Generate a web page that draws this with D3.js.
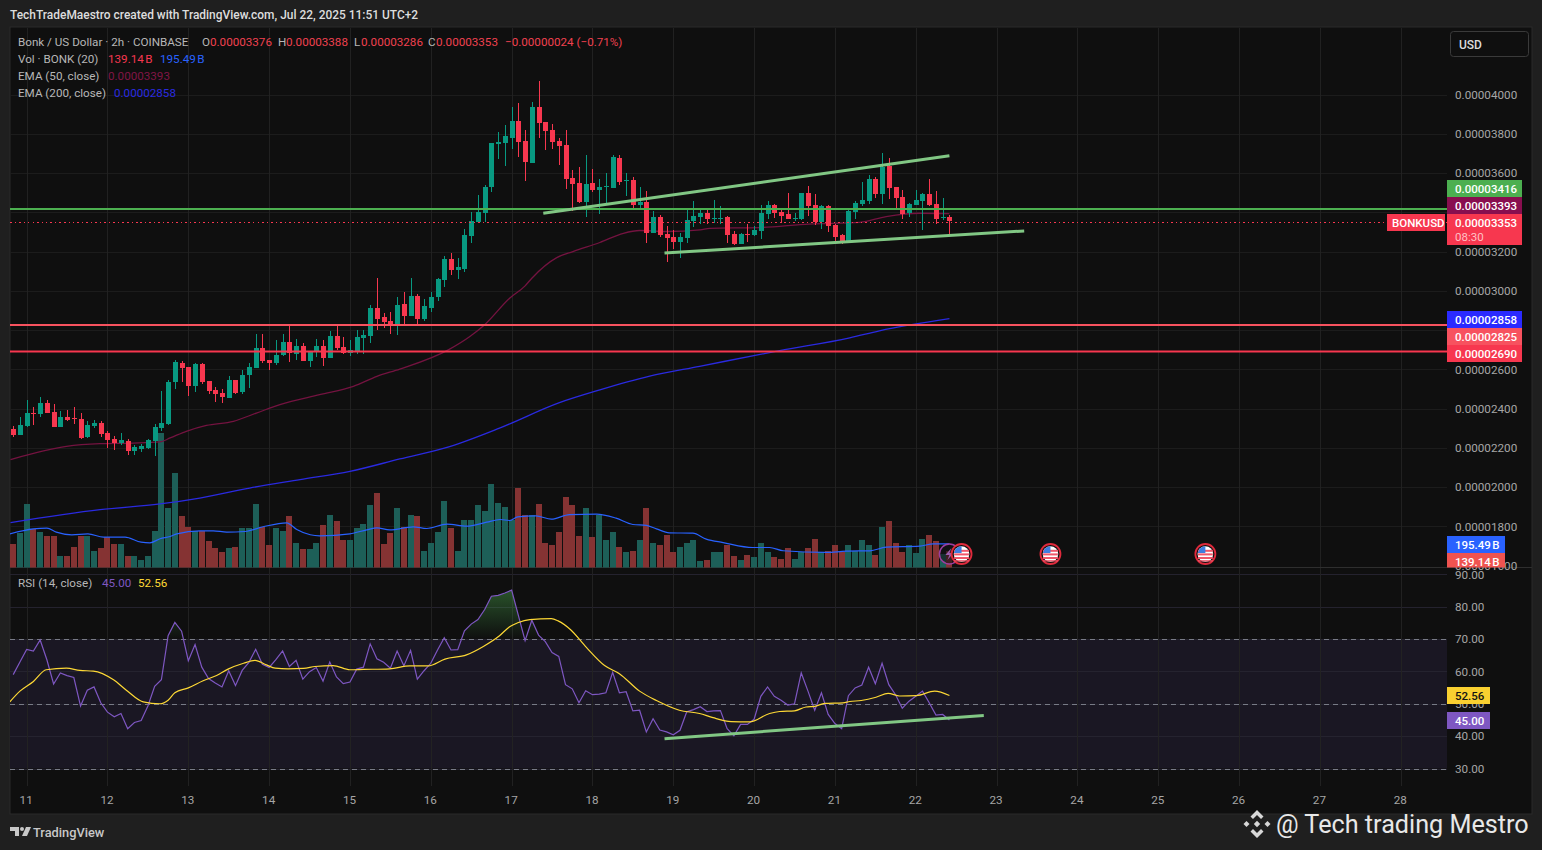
<!DOCTYPE html>
<html><head><meta charset="utf-8"><style>
html,body{margin:0;padding:0;background:#1f1f1f;overflow:hidden}
svg{display:block}
text{font-family:"Roboto",sans-serif}
</style>
<script src="https://cdn.jsdelivr.net/npm/d3@7/dist/d3.min.js"></script></head><body>
<svg id="c" width="1542" height="850"></svg>
<script>
// Prices are in units of 0.00000001 USD, one per 2h candle
const opens=[2297,2267,2313,2379,2374,2430,2384,2308,2359,2353,2348,2257,2313,2328,2277,2247,2226,2236,2185,2196,2201,2236,2303,2323,2537,2633,2613,2516,2628,2542,2496,2481,2455,2547,2486,2572,2608,2710,2649,2633,2674,2740,2679,2720,2644,2689,2720,2659,2771,2715,2684,2689,2761,2771,2913,2868,2847,2827,2934,2873,2974,2857,2913,2969,3056,3163,3107,3112,3280,3351,3397,3529,3748,3753,3779,3865,3763,3651,3937,3860,3819,3763,3743,3575,3550,3453,3550,3514,3529,3524,3677,3560,3565,3438,3453,3295,3377,3290,3275,3249,3270,3356,3376,3396,3367,3367,3376,3289,3239,3289,3284,3305,3391,3437,3401,3391,3367,3366,3498,3437,3351,3432,3335,3284,3254,3401,3442,3457,3569,3493,3636,3529,3478,3396,3437,3457,3493,3442,3371,3376];
const highs=[2313,2359,2445,2409,2460,2445,2425,2389,2394,2409,2379,2338,2343,2338,2287,2262,2277,2247,2216,2221,2247,2323,2491,2547,2649,2644,2613,2633,2633,2542,2511,2501,2567,2547,2598,2633,2781,2781,2649,2751,2781,2827,2756,2735,2695,2756,2751,2796,2827,2766,2751,2801,2801,2929,3066,2888,2893,2969,2995,3066,2985,2959,2995,3066,3178,3193,3168,3315,3402,3489,3539,3753,3809,3845,3937,3957,3819,3962,4069,3860,3850,3779,3819,3616,3631,3692,3621,3570,3601,3692,3692,3601,3580,3529,3509,3407,3387,3331,3310,3295,3412,3457,3412,3417,3463,3432,3381,3305,3294,3340,3330,3437,3457,3442,3412,3498,3396,3498,3534,3493,3437,3437,3340,3289,3417,3457,3554,3590,3580,3702,3676,3529,3513,3447,3513,3498,3569,3508,3473,3388];
const lows=[2253,2267,2308,2318,2359,2379,2308,2308,2338,2323,2247,2252,2303,2257,2201,2191,2216,2165,2165,2180,2196,2160,2287,2318,2501,2537,2465,2486,2527,2476,2435,2430,2455,2476,2476,2506,2608,2633,2598,2623,2669,2639,2649,2644,2613,2664,2618,2659,2700,2679,2669,2679,2679,2735,2801,2812,2781,2776,2832,2873,2832,2847,2893,2949,3020,3081,3061,3097,3244,3351,3351,3504,3672,3636,3723,3682,3560,3651,3779,3718,3723,3641,3519,3407,3448,3377,3504,3392,3443,3524,3539,3483,3422,3417,3244,3295,3275,3147,3214,3168,3244,3325,3340,3340,3345,3340,3244,3234,3239,3249,3279,3264,3366,3371,3345,3366,3356,3361,3381,3335,3315,3300,3239,3239,3254,3366,3432,3442,3473,3442,3468,3422,3366,3376,3437,3310,3432,3340,3361,3286];
const closes=[2267,2318,2379,2375,2430,2379,2308,2359,2343,2350,2252,2318,2328,2272,2241,2226,2241,2185,2206,2211,2241,2308,2328,2537,2639,2608,2516,2628,2537,2491,2476,2460,2547,2481,2572,2613,2710,2644,2633,2674,2740,2684,2720,2644,2695,2720,2659,2771,2710,2684,2700,2766,2776,2913,2857,2842,2827,2929,2873,2974,2857,2923,2969,3061,3163,3107,3122,3285,3356,3402,3529,3753,3758,3789,3865,3758,3657,3937,3855,3814,3758,3738,3570,3545,3453,3545,3514,3529,3534,3682,3555,3565,3438,3453,3295,3377,3285,3270,3249,3275,3361,3381,3396,3366,3371,3371,3284,3239,3289,3286,3310,3396,3437,3396,3381,3366,3371,3498,3432,3351,3432,3330,3274,3254,3407,3447,3463,3569,3493,3631,3524,3473,3391,3442,3463,3493,3437,3366,3376,3353];
// Volume in billions of BONK
const volumes=[198,286,520,314,297,256,264,91,99,173,264,256,140,165,248,190,198,99,91,66,91,305,1114,487,776,429,338,305,305,215,165,132,165,173,322,322,520,338,182,330,305,429,206,149,149,206,347,437,380,231,231,322,363,512,611,190,281,495,338,437,421,140,206,297,545,330,140,396,396,512,470,693,536,503,388,660,437,437,520,206,182,289,578,512,256,487,248,437,223,297,173,132,140,231,487,206,182,272,124,173,206,223,50,66,132,132,182,99,66,107,83,206,132,83,74,157,74,124,165,239,124,140,182,124,182,140,223,182,107,338,380,206,132,182,116,239,272,215,113,139.14];
const volMaIdx=[-0.5,3,5,6.4,8.7,11.1,13.4,16.6,19,20.3,21.8,23.3,24.3,27.7,29.7,31.7,34.4,37.1,40.6,42.1,44.1,45.5,50,52.5,54,55.9,59.4,61.4,64.4,67.3,70.3,72.3,73.7,74.9,77.6,79.9,82.6,86.6,89.5,92,94,95.5,97.4,100.9,102.9,105.4,109.8,112.3,114.3,120.7,123.7,127.2,129.6,134.6,136.6,139];
const volMaVal=[278,319,325,292,270,278,250,250,209,204,237,256,278,303,303,292,297,336,369,314,270,261,278,311,327,311,336,322,358,341,374,396,388,418,426,399,437,440,407,355,347,319,286,283,234,206,165,165,138,124,135,138,168,176,195,195.49];
const ema50Idx=[-0.4,4.5,7.9,12.9,17.8,21.8,23.3,25.7,28.7,32.7,36.1,39.6,45.5,50.5,54,57.4,64.6,67.8,70,73.7,76,77,80.7,83.1,87.1,90.6,93,97,102,103.4,110.8,118.2,125.7,129.6,134.6,139];
const ema50Val=[2140,2184,2207,2221,2224,2230,2250,2284,2314,2335,2377,2420,2471,2513,2564,2601,2699,2767,2827,2962,3025,3064,3169,3200,3246,3293,3307,3302,3310,3318,3322,3340,3349,3378,3395,3393];
const ema200Idx=[-0.4,12.9,21.8,27.7,35.1,42.6,50,57.4,64.8,72.2,81.1,87.1,94.5,101.9,113.8,124.2,128.6,139];
const ema200Val=[1819,1885,1914,1944,1995,2038,2080,2143,2206,2300,2430,2495,2565,2615,2695,2760,2796,2858];
const rsi=[59.0,62.9,66.8,66.3,69.7,63.6,56.1,59.5,58.7,58.1,49.3,54.2,55.2,50.3,47.4,46.0,47.0,42.3,44.2,44.8,49.3,55.4,57.4,71.0,75.1,72.4,63.3,68.3,61.3,57.8,56.4,55.2,60.2,55.6,60.3,62.8,66.8,62.2,61.2,63.6,66.3,61.5,63.4,57.6,59.9,61.2,57.0,62.9,58.3,56.2,56.7,60.7,61.3,68.5,63.9,62.8,61.0,66.3,61.7,66.5,57.6,60.2,62.5,66.6,70.4,66.6,66.7,72.5,74.6,76.0,79.1,83.2,83.5,84.2,85.1,77.3,69.5,75.8,71.2,69.2,65.8,64.6,55.9,54.6,50.3,54.0,52.8,53.0,53.4,59.7,53.4,53.7,47.8,48.0,41.3,45.4,41.9,41.3,40.4,41.8,47.5,48.2,49.1,47.6,47.8,47.9,42.3,40.1,43.6,43.6,45.2,52.3,55.2,52.3,51.1,49.6,50.0,59.5,53.9,48.0,53.4,46.7,43.9,42.3,52.5,54.9,55.8,61.3,56.2,62.5,55.9,52.8,48.6,50.8,52.3,53.9,50.3,46.5,46.7,45.0];
const rsiMaIdx=[-0.5,1,3,4.9,7.9,9.9,11.9,14.9,16.8,19.3,21.8,23,24,26,28.2,30.2,31.9,34.2,35.9,37.6,38.9,40.8,43.1,44.8,47.5,50,52,55.9,58.9,61.6,64.1,67.3,69.8,72.2,73.7,74.9,76.7,79.9,80.9,82.8,85.1,87.8,90,93,95.5,98.9,101.9,103.9,106.6,109.3,112.3,113.8,116,117.7,119,120.5,123.2,124.2,125.9,128.1,129.9,131.6,134.1,136.8,139];
const rsiMaVal=[50.6,53.9,56.9,60.5,61.0,60.3,60.1,57.4,54.2,50.6,50.0,51.1,53.4,54.9,57.1,58.7,60.7,62.5,63.4,62.0,61.0,60.8,60.9,61.5,61.8,60.5,60.6,60.8,61.7,61.7,63.8,65.1,67.7,71.0,73.8,75.0,76.0,76.3,75.6,72.8,67.4,61.8,59.3,53.9,51.0,48.0,47.0,45.7,44.5,44.4,47.0,47.6,47.8,49.0,49.2,50.1,50.3,50.7,51.0,52.0,53.2,52.4,52.5,53.9,52.56];
const priceTicks=[1600,1800,2000,2200,2400,2600,2800,3000,3200,3400,3600,3800,4000];
const priceLabelTicks=[1600,1800,2000,2200,2400,2600,3000,3200,3600,3800,4000];
const rsiTicks=[30,40,50,60,70,80,90];
const dayLabels=[11,12,13,14,15,16,17,18,19,20,21,22,23,24,25,26,27,28];
const levelPrices=[3416,2825,2690];
const upperTrendIdx=[78.7,139], upperTrendVal=[3395,3688];
const lowerTrendIdx=[96.7,150.1], lowerTrendVal=[3192,3305];
const rsiTrendIdx=[96.7,144.1], rsiTrendVal=[39.2,46.4];
const usEventIdx=[140.8,154,177];

const UP='#089981',DN='#f7374f',GRID='#1e1e1e';
const svg=d3.select('#c');
const L=10,R=1447,T=28,VB=567.5,B=786;
const x=d3.scaleLinear().domain([0,206]).range([13.2,1400.7]);
const y=d3.scaleLinear().domain([1800,4000]).range([526.3,94.5]);
const yv=d3.scaleLinear().domain([0,1114]).range([567.5,432.5]);
const yr=d3.scaleLinear().domain([30,70]).range([768.5,639]);
const dayIdx=d=>2+12*(d-11);

// frame
svg.append('rect').attr('x',L).attr('y',T-1).attr('width',1522).attr('height',787).attr('fill','#0f0f0f').attr('stroke','#2b2b2b');
const defs=svg.append('defs');
defs.append('clipPath').attr('id','pm').append('rect').attr('x',L).attr('y',T).attr('width',R-L).attr('height',VB-T);
defs.append('clipPath').attr('id','pr').append('rect').attr('x',L).attr('y',568).attr('width',R-L).attr('height',B-568);
const grad=defs.append('linearGradient').attr('id','ob').attr('gradientUnits','userSpaceOnUse').attr('x1',0).attr('x2',0).attr('y1',yr(85)).attr('y2',yr(70));
grad.append('stop').attr('offset',0).attr('stop-color','#4caf50').attr('stop-opacity',.42);
grad.append('stop').attr('offset',1).attr('stop-color','#4caf50').attr('stop-opacity',0);

// RSI band
svg.append('rect').attr('x',L).attr('width',R-L).attr('y',yr(70)).attr('height',yr(30)-yr(70)).attr('fill','#1a1723');

// grid
const gridH=svg.append('g').attr('transform',`translate(${R},0)`).call(d3.axisLeft(y).tickValues(priceTicks.filter(t=>t>=1800)).tickSize(R-L).tickFormat(''));
const gridR=svg.append('g').attr('transform',`translate(${R},0)`).call(d3.axisLeft(yr).tickValues(rsiTicks).tickSize(R-L).tickFormat(''));
const gridV=svg.append('g').attr('transform',`translate(0,${B})`).call(d3.axisTop(x).tickValues(dayLabels.map(dayIdx)).tickSize(B-T).tickFormat(''));
[gridH,gridR,gridV].forEach(g=>{g.select('.domain').remove();g.selectAll('line').attr('stroke',GRID).attr('stroke-opacity',.95).attr('stroke-width',1).attr('shape-rendering','crispEdges');});
gridR.selectAll('line').attr('stroke','#262430');
gridV.selectAll('line').attr('stroke','#232323');
// pane separator
svg.append('line').attr('x1',L).attr('x2',1532).attr('y1',567.5).attr('y2',567.5).attr('stroke','#2e2e2e');

const idxs=d3.range(opens.length);
const main=svg.append('g').attr('clip-path','url(#pm)');
// volume
main.append('g').selectAll('rect').data(idxs).join('rect')
 .attr('x',i=>x(i)-3).attr('width',6).attr('y',i=>yv(volumes[i])).attr('height',i=>567.5-yv(volumes[i]))
 .attr('fill',i=>closes[i]>=opens[i]?'#1d5f58':'#853333').attr('shape-rendering','crispEdges');
const lineOf=(xs,ys,sx,sy,smooth)=>d3.line().curve(smooth?d3.curveMonotoneX:d3.curveLinear).x((d,i)=>sx(xs[i])).y((d,i)=>sy(ys[i]))(xs);
main.append('path').attr('d',lineOf(volMaIdx,volMaVal,x,yv,true)).attr('fill','none').attr('stroke','#2962ff').attr('stroke-width',1.2).attr('stroke-linejoin','round');
main.append('path').attr('d',lineOf(ema50Idx,ema50Val,x,y,true)).attr('fill','none').attr('stroke','#741340').attr('stroke-width',1.3);
main.append('path').attr('d',lineOf(ema200Idx,ema200Val,x,y,true)).attr('fill','none').attr('stroke','#2a2ae0').attr('stroke-width',1.3);
// candles
const cg=main.append('g');
cg.selectAll('line').data(idxs).join('line')
 .attr('x1',i=>Math.round(x(i))+.5).attr('x2',i=>Math.round(x(i))+.5).attr('y1',i=>y(highs[i])).attr('y2',i=>y(lows[i]))
 .attr('stroke',i=>closes[i]>=opens[i]?UP:DN).attr('stroke-width',1).attr('shape-rendering','crispEdges');
cg.selectAll('rect').data(idxs).join('rect')
 .attr('x',i=>Math.round(x(i))-2).attr('width',5)
 .attr('y',i=>y(Math.max(opens[i],closes[i])))
 .attr('height',i=>Math.max(1,Math.abs(y(opens[i])-y(closes[i]))))
 .attr('fill',i=>closes[i]>=opens[i]?UP:DN).attr('shape-rendering','crispEdges');
// levels
const lev=['#4caf50','#f7525f','#f7374f'];
main.append('g').selectAll('line').data(levelPrices).join('line').attr('x1',L).attr('x2',R).attr('y1',d=>y(d)).attr('y2',d=>y(d))
 .attr('stroke',(d,i)=>lev[i]).attr('stroke-width',2);
const lastY=Math.ceil(y(closes[139]))+.5;
main.append('line').attr('x1',L).attr('x2',R).attr('y1',lastY).attr('y2',lastY).attr('stroke',DN).attr('stroke-dasharray','1.5 3').attr('stroke-width',1).attr('shape-rendering','crispEdges');
// trend lines
main.append('path').attr('d',lineOf(upperTrendIdx,upperTrendVal,x,y)).attr('stroke','#81c784').attr('stroke-width',3).attr('fill','none');
main.append('path').attr('d',lineOf(lowerTrendIdx,lowerTrendVal,x,y)).attr('stroke','#81c784').attr('stroke-width',3).attr('fill','none');

// RSI pane
const rp=svg.append('g').attr('clip-path','url(#pr)');
rp.selectAll('line.l').data([70,50,30]).join('line').attr('class','l').attr('x1',L).attr('x2',R).attr('y1',d=>Math.round(yr(d))+.5).attr('y2',d=>Math.round(yr(d))+.5)
 .attr('stroke','#787b86').attr('stroke-dasharray','5 4');
defs.append('clipPath').attr('id','ob70').append('rect').attr('x',L).attr('width',R-L).attr('y',568).attr('height',yr(70)-568);
rp.append('path').attr('clip-path','url(#ob70)').attr('fill','url(#ob)')
 .attr('d',d3.area().x(i=>x(i)).y0(yr(70)).y1(i=>yr(rsi[i]))(idxs));
rp.append('path').attr('d',d3.line().x(i=>x(i)).y(i=>yr(rsi[i]))(idxs)).attr('fill','none').attr('stroke','#7e57c2').attr('stroke-width',1.2);
rp.append('path').attr('d',lineOf(rsiMaIdx,rsiMaVal,x,yr,true)).attr('fill','none').attr('stroke','#fdd835').attr('stroke-width',1.2);
rp.append('path').attr('d',lineOf(rsiTrendIdx,rsiTrendVal,x,yr)).attr('stroke','#81c784').attr('stroke-width',3).attr('fill','none');

// axes
const TICK='#a6a6a6',FS=11.7;
const fmt=v=>(v*1e-8).toFixed(8);
const ax=svg.append('g').attr('transform',`translate(1449,0)`).call(d3.axisRight(y).tickValues(priceLabelTicks).tickSize(0).tickPadding(6).tickFormat(fmt));
const ax2=svg.append('g').attr('transform',`translate(1449,0)`).call(d3.axisRight(yr).tickValues(rsiTicks).tickSize(0).tickPadding(6).tickFormat(d=>d.toFixed(2)));
const ax3=svg.append('g').attr('transform',`translate(-1,794)`).call(d3.axisBottom(x).tickValues(dayLabels.map(dayIdx)).tickSize(0).tickPadding(2).tickFormat((d,i)=>dayLabels[i]));
[ax,ax2,ax3].forEach(a=>{a.select('.domain').remove();a.selectAll('text').attr('fill',TICK).attr('font-size',FS).attr('font-family','Roboto');});

// right-hand value tags
function tag(xx,yy,w,h,bg,txt,col,sub,tx){
 svg.append('rect').attr('x',xx).attr('y',yy).attr('width',w).attr('height',h).attr('fill',bg);
 svg.append('text').attr('x',tx||xx+8).attr('y',yy+12.7).attr('fill',col||'#fff').attr('font-size',11.5).attr('font-weight',500).style('word-spacing','-1.5px').text(txt);
 if(sub) svg.append('text').attr('x',xx+8).attr('y',yy+27).attr('fill','#ffc0c5').attr('font-size',11.5).text(sub);
}
tag(1447,180,75,17,'#4caf50','0.00003416');
tag(1447,197,75,17,'#880e4f','0.00003393');
tag(1447,214,75,31,DN,'0.00003353','#fff','08:30');
tag(1387,214,58,17,DN,'BONKUSD','#fff',null,1392);
tag(1447,311,75,17,'#2a2aff','0.00002858');
tag(1447,328,75,17,'#f7525f','0.00002825');
tag(1447,345,75,17,DN,'0.00002690');
tag(1447,536,58,17,'#2962ff','195.49 B');
// clipped 139.14B tag
const vt=svg.append('g');
defs.append('clipPath').attr('id','vt').append('rect').attr('x',1447).attr('y',553).attr('width',60).attr('height',14.5);
vt.attr('clip-path','url(#vt)').append('rect').attr('x',1447).attr('y',553).attr('width',58).attr('height',17).attr('fill','#ef5350');
vt.append('text').attr('x',1455).attr('y',566).attr('fill','#fff').attr('font-size',11.5).attr('font-weight',500).style('word-spacing','-1.5px').text('139.14 B');
tag(1447,687,43,17,'#f9d030','52.56','#131313');
tag(1447,712,43,17,'#7e57c2','45.00');
// USD button
svg.append('rect').attr('x',1450.5).attr('y',31.5).attr('width',78).attr('height',25).attr('rx',3).attr('fill','#0f0f0f').attr('stroke','#3a3a3a');
svg.append('text').attr('x',1459).attr('y',48.5).attr('fill','#dcdcdc').attr('font-size',12).attr('font-weight',500).text('USD');

// legend
function t(xx,yy,s,col,fs,fw){return svg.append('text').attr('x',xx).attr('y',yy).attr('fill',col).attr('font-size',fs||11.65).attr('font-weight',fw||400).style('word-spacing',s.endsWith(' B')?'-1.5px':null).text(s);}
const LG='#b7b7b7',LR='#f0414f';
t(10,19,'TechTradeMaestro created with TradingView.com, Jul 22, 2025 11:51 UTC+2','#dddddd',11.95,500);
t(18,46,'Bonk / US Dollar · 2h · COINBASE',LG);
t(202,46,'O',LG);t(210,46,'0.00003376',LR);
t(278,46,'H',LG);t(286,46,'0.00003388',LR);
t(354,46,'L',LG);t(361,46,'0.00003286',LR);
t(428,46,'C',LG);t(436,46,'0.00003353',LR);
t(505,46,'−0.00000024 (−0.71%)',LR);
t(18,63,'Vol · BONK (20)',LG);t(108,63,'139.14 B',DN);t(160,63,'195.49 B','#2962ff');
t(18,80,'EMA (50, close)',LG);t(108,80,'0.00003393','#801545');
t(18,97,'EMA (200, close)',LG);t(114,97,'0.00002858','#2a2ae0');
t(18,587,'RSI (14, close)',LG);t(102,587,'45.00','#7e57c2');t(138,587,'52.56','#fdd835');

// event badges
const ev=svg.append('g');
const lx=x(139),ly=554;
ev.append('circle').attr('cx',lx).attr('cy',ly).attr('r',10).attr('fill','#141018').attr('fill-opacity',.6).attr('stroke','#9c3fa0').attr('stroke-width',1.5);
ev.append('path').attr('d',`M${lx+2},${ly-6}L${lx-4},${ly+1}H${lx}L${lx-2},${ly+6}L${lx+4},${ly-1}H${lx}Z`).attr('fill','#9c5fb0');
usEventIdx.forEach(i=>{
 const g=ev.append('g').attr('transform',`translate(${x(i)},554)`);
 g.append('circle').attr('r',10).attr('fill','#111').attr('stroke','#e02a3c').attr('stroke-width',1.8);
 g.append('circle').attr('r',7.8).attr('fill','#fff');
 [[-4.2,2],[-0.6,2],[3,2],[6.2,1.3]].forEach(s=>g.append('rect').attr('x',-7.4).attr('width',14.8).attr('y',s[0]).attr('height',s[1]).attr('fill','#f0566a'));
 g.append('path').attr('d','M-7.6,-1 A7.8,7.8 0 0 1 0,-7.8 V-1Z').attr('fill','#3f7de0');
});

// footer
const tv=svg.append('g').attr('transform','translate(10,827)').attr('fill','#c8c8c8');
tv.append('path').attr('d','M0,0H9V9H5V4H0Z');tv.append('circle').attr('cx',12).attr('cy',2).attr('r',2);
tv.append('path').attr('d','M16,0H21L17,9H12Z');
t(33,837,'TradingView','#c8c8c8',12.8,500);
const bn=svg.append('g').attr('transform','translate(1257,824)').attr('fill','#d8d8d8');
bn.append('path').attr('d','M0,-14L6.5,-7.5L4,-5L0,-9L-4,-5L-6.5,-7.5Z');
bn.append('path').attr('d','M0,14L6.5,7.5L4,5L0,9L-4,5L-6.5,7.5Z');
bn.append('path').attr('d','M-13.5,0L-10.5,-3L-7.5,0L-10.5,3Z');
bn.append('path').attr('d','M13.5,0L10.5,-3L7.5,0L10.5,3Z');
bn.append('path').attr('d','M0,-3.2L3.2,0L0,3.2L-3.2,0Z');
svg.append('text').attr('x',1276).attr('y',833).attr('fill','#e8e8e8').attr('font-size',25.2).attr('font-family','Noto Sans').text('@ Tech trading Mestro');
</script></body></html>
